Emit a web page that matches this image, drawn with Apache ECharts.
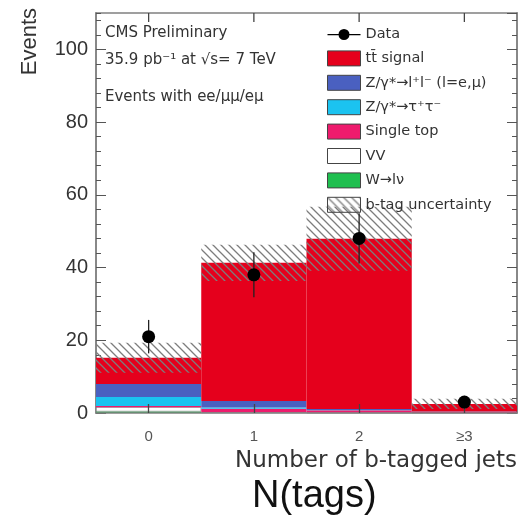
<!DOCTYPE html>
<html>
<head>
<meta charset="utf-8">
<script src="https://cdn.jsdelivr.net/npm/echarts@6/dist/echarts.min.js"></script>
<style>
  html, body { margin: 0; padding: 0; background: #fff; }
  #chart { width: 520px; height: 518px; }
</style>
</head>
<body>
<div id="chart"></div>
<script>
// bins of the b-tag multiplicity
const categories = ['0', '1', '2', '≥3']

// stacked MC, bottom to top
const wToLNu = [0.4, 0, 0, 0]
const dibosonVV = [1.2, 0.2, 0.05, 0]
const singleTop = [0.3, 1.0, 0.7, 0.3]
const zToTauTau = [2.5, 0.3, 0.05, 0]
const zToLL = [3.6, 1.8, 0.3, 0.1]
const ttSignal = [7.2, 38.0, 46.8, 2.1]

// half width of the hatched b-tag band
const btagUnc = [4.1, 5.0, 8.8, 1.4]

// observed events and their error bars
const dataCounts = [21, 38, 48, 3]
const dataErr = [4.6, 6.2, 6.9, 1.7]

const yMax = 110

const mcTotal = categories.map((c, i) =>
  wToLNu[i] + dibosonVV[i] + singleTop[i] + zToTauTau[i] + zToLL[i] + ttSignal[i])
const bandBase = mcTotal.map((t, i) => t - btagUnc[i])
const bandSize = btagUnc.map(u => 2 * u)

function hatchPattern() {
  const c = document.createElement('canvas')
  c.width = 8
  c.height = 8
  const g = c.getContext('2d')
  g.strokeStyle = '#7d7d7d'
  g.lineWidth = 1.3
  g.beginPath()
  g.moveTo(0, 0); g.lineTo(8, 8)
  g.moveTo(-4, 4); g.lineTo(4, 12)
  g.moveTo(4, -4); g.lineTo(12, 4)
  g.stroke()
  return c
}

const frame = { show: true, onZero: false, lineStyle: { color: '#808080', width: 1.5 } }
const tickColor = { color: '#555', width: 1 }
const txt = '#333'

function mcBar(name, values, color, extra) {
  return Object.assign({
    name: name,
    type: 'bar',
    stack: 'mc',
    data: values,
    barCategoryGap: '0%',
    barGap: '-100%',
    itemStyle: { color: color },
    silent: true
  }, extra || {})
}

let myChart = echarts.init(document.getElementById('chart'))

const option = {
  animation: false,
  backgroundColor: '#fff',
  grid: { left: 96, right: 3, top: 13, bottom: 105 },
  legend: {
    orient: 'vertical',
    left: 327,
    top: 27,
    padding: 0,
    itemWidth: 33,
    itemHeight: 15,
    itemGap: 8.4,
    itemStyle: { borderColor: '#444', borderWidth: 1 },
    textStyle: { fontFamily: 'DejaVu Sans', fontSize: 14.5, color: txt },
    data: [
      { name: 'Data', icon: 'path://M0,6.5H33V7.8H0Z M16.5,1.5A5.5,5.5 0 1 1 16.49,1.5Z', itemStyle: { borderWidth: 0 } },
      { name: 'tt\u0304 signal', icon: 'rect' },
      { name: 'Z/γ*→l⁺l⁻ (l=e,μ)', icon: 'rect' },
      { name: 'Z/γ*→τ⁺τ⁻', icon: 'rect' },
      { name: 'Single top', icon: 'rect' },
      { name: 'VV', icon: 'rect' },
      { name: 'W→lν', icon: 'rect' },
      { name: 'b-tag uncertainty', icon: 'rect' }
    ]
  },
  xAxis: [
    {
      type: 'category',
      data: categories,
      position: 'bottom',
      z: 5,
      axisLine: frame,
      axisTick: { show: true, inside: true, alignWithLabel: true, interval: 0, length: 9, lineStyle: { color: '#444', width: 1.3 } },
      axisLabel: { margin: 16, fontSize: 15, color: '#555', fontFamily: 'Liberation Sans' },
      splitLine: { show: false }
    },
    {
      type: 'category',
      data: categories,
      position: 'top',
      axisLine: frame,
      axisTick: { show: false },
      axisLabel: { show: false },
      splitLine: { show: false }
    }
  ],
  yAxis: [
    {
      type: 'value', min: 0, max: yMax, interval: 20, position: 'left',
      axisLine: frame,
      axisTick: { show: true, inside: true, length: 10, lineStyle: tickColor },
      axisLabel: { fontSize: 20, margin: 8, color: txt, fontFamily: 'Liberation Sans', showMaxLabel: false },
      splitLine: { show: false }
    },
    {
      type: 'value', min: 0, max: yMax, interval: 4, position: 'left',
      axisLine: frame,
      axisTick: { show: true, inside: true, length: 5, lineStyle: tickColor },
      axisLabel: { show: false },
      splitLine: { show: false }
    },
    {
      type: 'value', min: 0, max: yMax, interval: 20, position: 'right',
      axisLine: frame,
      axisTick: { show: true, inside: true, length: 10, lineStyle: tickColor },
      axisLabel: { show: false },
      splitLine: { show: false }
    },
    {
      type: 'value', min: 0, max: yMax, interval: 4, position: 'right',
      axisLine: frame,
      axisTick: { show: true, inside: true, length: 5, lineStyle: tickColor },
      axisLabel: { show: false },
      splitLine: { show: false }
    }
  ],
  series: [
    mcBar('W→lν', wToLNu, '#1fbf4f'),
    mcBar('VV', dibosonVV, '#ffffff', { itemStyle: { color: '#ffffff', borderColor: '#777', borderWidth: 0.6 } }),
    mcBar('Single top', singleTop, '#ee1b6d'),
    mcBar('Z/γ*→τ⁺τ⁻', zToTauTau, '#1bc3f0'),
    mcBar('Z/γ*→l⁺l⁻ (l=e,μ)', zToLL, '#4a60c0'),
    mcBar('tt\u0304 signal', ttSignal, '#e5001c'),
    {
      name: 'bandBase',
      type: 'bar',
      stack: 'unc',
      data: bandBase,
      barCategoryGap: '0%',
      barGap: '-100%',
      itemStyle: { color: 'rgba(0,0,0,0)' },
      silent: true
    },
    {
      name: 'b-tag uncertainty',
      type: 'bar',
      stack: 'unc',
      data: bandSize,
      barCategoryGap: '0%',
      barGap: '-100%',
      itemStyle: { color: { image: hatchPattern(), repeat: 'repeat' } },
      silent: true
    },
    {
      // tick marks along the top frame, one per bin centre
      name: 'topTicks',
      type: 'custom',
      xAxisIndex: 1,
      silent: true,
      data: categories.map((c, i) => [i, yMax]),
      encode: { x: 0, y: 1 },
      renderItem: function (params, api) {
        const p = api.coord([api.value(0), api.value(1)])
        return { type: 'line', shape: { x1: p[0], y1: p[1], x2: p[0], y2: p[1] + 9 }, style: { stroke: '#444', lineWidth: 1.3 } }
      }
    },
    {
      name: 'Data',
      type: 'custom',
      xAxisIndex: 1,
      itemStyle: { color: '#000' },
      data: dataCounts.map((v, i) => [i, v, dataErr[i]]),
      encode: { x: 0, y: 1 },
      z: 10,
      renderItem: function (params, api) {
        const x = api.value(0)
        const y = api.value(1)
        const e = api.value(2)
        const top = api.coord([x, y + e])
        const bot = api.coord([x, y - e])
        const c = api.coord([x, y])
        return {
          type: 'group',
          children: [
            { type: 'line', shape: { x1: top[0], y1: top[1], x2: bot[0], y2: bot[1] }, style: { stroke: '#222', lineWidth: 1.3 } },
            { type: 'circle', shape: { cx: c[0], cy: c[1], r: 6.5 }, style: { fill: '#000' } }
          ]
        }
      }
    }
  ],
  graphic: [
    { type: 'text', x: 105, y: 33, style: { text: 'CMS Preliminary', font: '15px "DejaVu Sans"', fill: txt, verticalAlign: 'middle' } },
    { type: 'text', x: 105, y: 60, style: { text: '35.9 pb⁻¹ at √s= 7 TeV', font: '15px "DejaVu Sans"', fill: txt, verticalAlign: 'middle' } },
    { type: 'text', x: 105, y: 97, style: { text: 'Events with ee/μμ/eμ', font: '15px "DejaVu Sans"', fill: txt, verticalAlign: 'middle' } },
    { type: 'text', x: 30, y: 8, rotation: Math.PI / 2, style: { text: 'Events', font: '22px "Liberation Sans"', fill: txt, align: 'right', verticalAlign: 'middle' } },
    { type: 'text', x: 517, y: 461, style: { text: 'Number of b-tagged jets', font: '23px "DejaVu Sans"', fill: txt, align: 'right', verticalAlign: 'middle' } },
    { type: 'text', x: 252, y: 497, style: { text: 'N(tags)', font: '38px "Liberation Sans"', fill: '#111', verticalAlign: 'middle' } }
  ]
}

option && myChart.setOption(option)
</script>
</body>
</html>
